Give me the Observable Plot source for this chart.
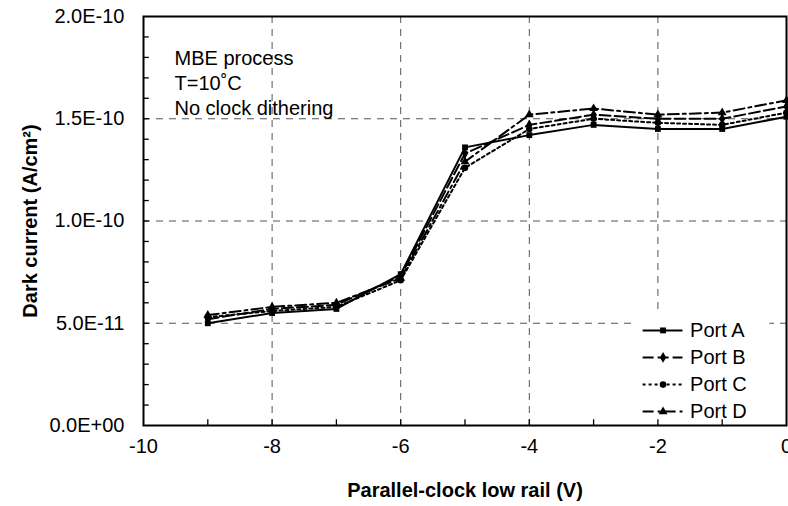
<!DOCTYPE html>
<html>
<head>
<meta charset="utf-8">
<script src="https://cdn.jsdelivr.net/npm/d3@7"></script>
<script src="https://cdn.jsdelivr.net/npm/@observablehq/plot@0.6"></script>
<style>
  html, body { margin: 0; padding: 0; background: #fff; }
</style>
</head>
<body>
<div id="chart"></div>
<script>
const xValues = [-9, -8, -7, -6, -5, -4, -3, -2, -1, 0];
const portA = [5.0e-11, 5.5e-11, 5.7e-11, 7.4e-11, 1.36e-10, 1.42e-10, 1.47e-10, 1.45e-10, 1.45e-10, 1.51e-10];
const portB = [5.2e-11, 5.7e-11, 5.9e-11, 7.3e-11, 1.33e-10, 1.47e-10, 1.52e-10, 1.50e-10, 1.50e-10, 1.56e-10];
const portC = [5.3e-11, 5.6e-11, 5.8e-11, 7.1e-11, 1.26e-10, 1.45e-10, 1.50e-10, 1.48e-10, 1.47e-10, 1.53e-10];
const portD = [5.4e-11, 5.8e-11, 6.0e-11, 7.2e-11, 1.29e-10, 1.52e-10, 1.55e-10, 1.52e-10, 1.53e-10, 1.59e-10];
const seriesNames = ["Port A", "Port B", "Port C", "Port D"];
const seriesValues = [portA, portB, portC, portD];
const seriesSymbols = ["square", "diamond", "circle", "triangle"];
const seriesDash = [null, "11,4", "3,3", "11,4,3,4"];

const xTicks = [-10, -8, -6, -4, -2, 0];
const xTickLabels = ["-10", "-8", "-6", "-4", "-2", "0"];
const xMinorTicks = [-9, -8, -7, -6, -5, -4, -3, -2, -1];
const yTicks = [0, 5e-11, 1e-10, 1.5e-10, 2e-10];
const yTickLabels = ["0.0E+00", "5.0E-11", "1.0E-10", "1.5E-10", "2.0E-10"];
const yMinorTicks = d3.range(1, 20).map(i => i * 1e-11);
const xGrid = [-8, -6, -4, -2];
const yGrid = [5e-11, 1e-10, 1.5e-10];

const annotation = "MBE process\nT=10˚C\nNo clock dithering";
const xTitle = "Parallel-clock low rail (V)";
const yTitle = "Dark current (A/cm²)";

const rows = [];
seriesNames.forEach((name, i) => {
  xValues.forEach((x, j) => rows.push({series: name, idx: i, x, y: seriesValues[i][j]}));
});

// legend layout (data units)
const legY = [4.65e-11, 3.33e-11, 2.0e-11, 0.68e-11];
const legend = seriesNames.map((name, i) => ({name, i, y: legY[i]}));

const tickLenX = 0.09;     // x-units (~6px)
const tickLenY = 0.28e-11; // y-units (~6px)

const lineMarks = [];
const dotMarks = [];
seriesNames.forEach((name, i) => {
  const data = rows.filter(d => d.idx === i);
  lineMarks.push(Plot.line(data, {x: "x", y: "y", stroke: "black", strokeWidth: 2, strokeDasharray: seriesDash[i]}));
  dotMarks.push(Plot.dot(data, {x: "x", y: "y", symbol: () => seriesSymbols[i], fill: "black", stroke: "none", r: 3.3}));
  const lg = [legend[i]];
  lineMarks.push(Plot.ruleY(lg, {y: "y", x1: -2.23, x2: -1.61, stroke: "black", strokeWidth: 2, strokeDasharray: seriesDash[i]}));
  dotMarks.push(Plot.dot(lg, {x: -1.92, y: "y", symbol: () => seriesSymbols[i], fill: "black", stroke: "none", r: 3.3}));
});

const FS = 20;
const chart = Plot.plot({
  width: 788,
  height: 506,
  marginLeft: 143,
  marginRight: 2,
  marginTop: 16,
  marginBottom: 81,
  style: {fontFamily: "'Liberation Sans', Arial, sans-serif", fontSize: FS + "px", background: "white", color: "black"},
  x: {domain: [-10, 0]},
  y: {domain: [0, 2e-10]},
  marks: [
    Plot.ruleX(xGrid, {stroke: "#555", strokeWidth: 1, strokeDasharray: "7,6"}),
    Plot.ruleY(yGrid, {stroke: "#555", strokeWidth: 1, strokeDasharray: "7,6"}),
    Plot.rect([{x1: -2.34, x2: -0.26, y1: 0.05e-11, y2: 5.62e-11}], {x1: "x1", x2: "x2", y1: "y1", y2: "y2", fill: "white"}),
    // ticks (inside)
    Plot.ruleY(yMinorTicks, {x1: -10, x2: -10 + tickLenX, stroke: "black", strokeWidth: 1.3}),
    Plot.ruleX(xMinorTicks, {y1: 0, y2: tickLenY, stroke: "black", strokeWidth: 1.3}),
    ...lineMarks,
    ...dotMarks,
    Plot.text(legend, {x: -1.5, y: "y", text: "name", textAnchor: "start", fontSize: FS, fill: "black"}),
    Plot.axisX(xTicks, {tickSize: 0, tickPadding: 13, tickFormat: (d, i) => xTickLabels[i], label: null, fontSize: FS}),
    Plot.axisY(yTicks, {tickSize: 0, tickPadding: 19, tickFormat: (d, i) => yTickLabels[i], label: null, fontSize: FS}),
    Plot.text([annotation], {frameAnchor: "top-left", dx: 31, dy: 31, lineAnchor: "top", lineHeight: 1.25, textAnchor: "start", fontSize: FS, fill: "black"}),
    Plot.text([xTitle], {frameAnchor: "bottom", dy: 71, fontWeight: "bold", fontSize: FS, fill: "black"}),
    Plot.text([yTitle], {x: [-11.75], y: [1e-10], text: [yTitle], rotate: -90, fontWeight: "bold", fontSize: FS, fill: "black", clip: false}),
    Plot.frame({stroke: "black", strokeWidth: 2})
  ]
});
document.getElementById("chart").appendChild(chart);
</script>
</body>
</html>
